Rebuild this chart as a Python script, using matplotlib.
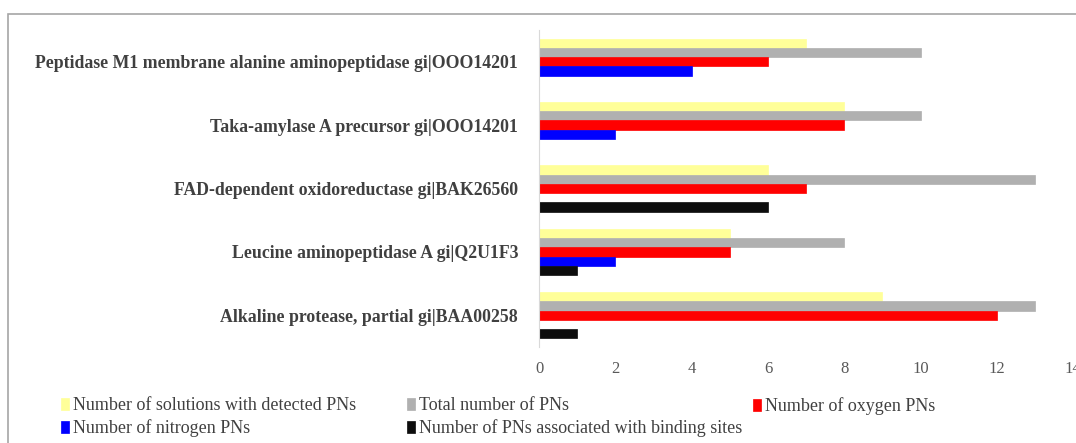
import matplotlib.pyplot as plt
import numpy as np
from matplotlib.patches import Rectangle

# proteins, bottom to top
proteins = [
    "Alkaline protease, partial gi|BAA00258",
    "Leucine aminopeptidase A gi|Q2U1F3",
    "FAD-dependent oxidoreductase gi|BAK26560",
    "Taka-amylase A precursor gi|OOO14201",
    "Peptidase M1 membrane alanine aminopeptidase gi|OOO14201",
]

series_names = [
    "Number of solutions with detected PNs",
    "Total number of PNs",
    "Number of oxygen PNs",
    "Number of nitrogen PNs",
    "Number of PNs associated with binding sites",
]
series_colors = ["#ffff99", "#b0b0b0", "#ff0000", "#0000ff", "#0d0d0d"]

solutions = [9, 5, 6, 8, 7]
total_pns = [13, 8, 13, 10, 10]
oxygen_pns = [12, 5, 7, 8, 6]
nitrogen_pns = [0, 2, 0, 2, 4]
binding_pns = [1, 1, 6, 0, 0]

values = [solutions, total_pns, oxygen_pns, nitrogen_pns, binding_pns]
x_ticks = [0, 2, 4, 6, 8, 10, 12, 14]

plt.rcParams['font.family'] = ['Liberation Serif', 'DejaVu Serif']

fig = plt.figure(figsize=(10.76, 4.43), dpi=100)
ax = fig.add_axes([0.501, 0.217, 0.4963, 0.715])

y = np.arange(len(proteins))
h = 0.147
bars = []
for i, (vals, col) in enumerate(zip(values, series_colors)):
    # first series sits on top of each group
    offs = (2 - i) * h
    b = ax.barh(y + offs, vals, height=h, color=col, label=series_names[i],
                edgecolor=col, linewidth=0.5)
    bars.append(b)

ax.set_xlim(0, 14)
ax.set_ylim(-0.5, 4.5)
ax.set_xticks(x_ticks)
ax.set_xticklabels([str(t) for t in x_ticks], fontsize=12, color="#595959")
ax.set_yticks(y)
ax.set_yticklabels(proteins, fontsize=12.8, fontweight="bold", color="#404040")
ax.tick_params(axis='y', length=0, pad=15)
ax.tick_params(axis='x', length=0, pad=10)

for s in ['top', 'right', 'bottom']:
    ax.spines[s].set_visible(False)
ax.spines['left'].set_color("#d9d9d9")

# legend laid out in three equal-width columns
columns = [[0, 3], [1, 4], [2]]
col_x = [0.0565, 0.378, 0.6995]
for xs, idx in zip(col_x, columns):
    leg = fig.legend([bars[i] for i in idx], [series_names[i] for i in idx],
                     loc='upper left', bbox_to_anchor=(xs, 0.103),
                     frameon=False, fontsize=13, handlelength=0.45,
                     handleheight=0.7, handletextpad=0.25, labelspacing=0.28,
                     borderpad=0, borderaxespad=0)
    for t in leg.get_texts():
        t.set_color("#404040")

# outer chart frame
fig.patches.append(Rectangle((0.007, -0.1), 1.1, 1.068, transform=fig.transFigure,
                             fill=False, edgecolor="#a6a6a6", linewidth=1.2))

fig.savefig("out.png", dpi=100)
